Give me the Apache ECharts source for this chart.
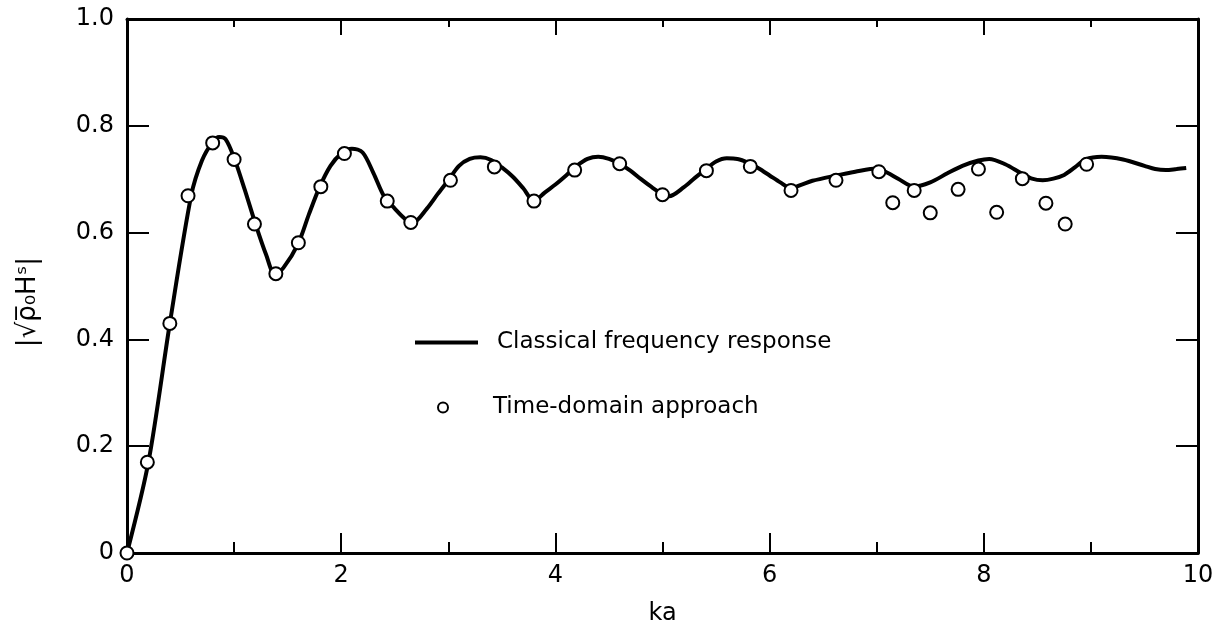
<!DOCTYPE html>
<html>
<head>
<meta charset="utf-8">
<script src="https://cdn.jsdelivr.net/npm/echarts@6/dist/echarts.min.js"></script>
<style>
html,body{margin:0;padding:0;background:#fff;}
#chart{width:1221px;height:634px;}
</style>
</head>
<body>
<div id="chart"></div>
<script>
// Classical frequency response curve (ka, |sqrt(rho) H^s|)
const curveKa = [0, 0.2, 0.4, 0.6, 0.7, 0.8, 0.86, 0.92, 1.0, 1.1, 1.2, 1.3, 1.38, 1.46, 1.6, 1.7, 1.8, 1.9, 2.0, 2.1, 2.2, 2.3, 2.4, 2.5, 2.6, 2.67, 2.8, 2.9, 3.0, 3.1, 3.2, 3.3, 3.4, 3.5, 3.6, 3.7, 3.8, 3.9, 4.0, 4.1, 4.2, 4.3, 4.4, 4.5, 4.6, 4.7, 4.8, 4.9, 5.0, 5.06, 5.2, 5.3, 5.4, 5.5, 5.6, 5.7, 5.8, 5.9, 6.0, 6.1, 6.2, 6.3, 6.4, 6.6, 6.8, 7.0, 7.1, 7.2, 7.35, 7.5, 7.66, 7.8, 7.95, 8.05, 8.2, 8.35, 8.45, 8.55, 8.65, 8.75, 8.85, 8.95, 9.1, 9.3, 9.5, 9.6, 9.7, 9.8, 9.89];
const curveVal = [0, 0.17, 0.43, 0.67, 0.735, 0.77, 0.779, 0.775, 0.74, 0.68, 0.616, 0.558, 0.522, 0.534, 0.58, 0.635, 0.686, 0.725, 0.748, 0.757, 0.75, 0.712, 0.668, 0.645, 0.625, 0.619, 0.645, 0.672, 0.698, 0.725, 0.738, 0.741, 0.736, 0.722, 0.705, 0.683, 0.659, 0.675, 0.69, 0.707, 0.725, 0.738, 0.742, 0.738, 0.729, 0.716, 0.70, 0.685, 0.672, 0.668, 0.685, 0.702, 0.718, 0.733, 0.739, 0.738, 0.731, 0.72, 0.707, 0.694, 0.683, 0.690, 0.697, 0.706, 0.714, 0.72, 0.712, 0.701, 0.686, 0.694, 0.711, 0.725, 0.735, 0.738, 0.728, 0.711, 0.701, 0.698, 0.701, 0.708, 0.722, 0.737, 0.742, 0.737, 0.725, 0.719, 0.717, 0.719, 0.721];

// Time-domain approach points
const pointKa = [0, 0.19, 0.4, 0.57, 0.8, 1.0, 1.19, 1.39, 1.6, 1.81, 2.03, 2.43, 2.65, 3.02, 3.43, 3.8, 4.18, 4.6, 5.0, 5.41, 5.82, 6.2, 6.62, 7.02, 7.15, 7.35, 7.5, 7.76, 7.95, 8.12, 8.36, 8.58, 8.76, 8.96];
const pointVal = [0, 0.17, 0.43, 0.669, 0.768, 0.737, 0.616, 0.523, 0.581, 0.686, 0.748, 0.659, 0.619, 0.698, 0.723, 0.659, 0.717, 0.729, 0.671, 0.716, 0.724, 0.679, 0.698, 0.714, 0.656, 0.679, 0.637, 0.681, 0.719, 0.638, 0.701, 0.655, 0.616, 0.728];

const xTicks = ['0', '2', '4', '6', '8', '10'];
const yTicks = ['0', '0.2', '0.4', '0.6', '0.8', '1.0'];

const seriesNames = ['Classical frequency response', 'Time-domain approach'];
const xName = 'ka';
const yName = '|√ρ̅₀Hˢ|';

const FONT = 'DejaVu Sans';
const chart = echarts.init(document.getElementById('chart'), null, {renderer: 'canvas'});

const axisLine = {show: true, onZero: false, lineStyle: {color: '#000', width: 3}};
const option = {
  backgroundColor: '#fff',
  animation: false,
  grid: {left: 127, right: 23, top: 19, bottom: 81, containLabel: false},
  legend: [
    {
      data: [{name: seriesNames[0], icon: 'rect'}],
      left: 415, top: 331, padding: 0,
      itemWidth: 63, itemHeight: 4,
      itemStyle: {color: '#000', borderWidth: 0},
      textStyle: {fontFamily: FONT, fontSize: 23, color: '#000', padding: [0, 0, 0, 14]},
      selectedMode: false
    },
    {
      data: [{name: seriesNames[1], icon: 'circle'}],
      left: 437, top: 396, padding: 0,
      itemWidth: 20, itemHeight: 10,
      itemStyle: {color: '#fff', borderColor: '#000', borderWidth: 2},
      textStyle: {fontFamily: FONT, fontSize: 23, color: '#000', padding: [0, 0, 0, 35]},
      selectedMode: false
    }
  ],
  xAxis: [
    {
      type: 'value', min: 0, max: 10, interval: 2, position: 'bottom',
      name: xName, nameLocation: 'middle', nameGap: 49,
      nameTextStyle: {fontFamily: FONT, fontSize: 24, color: '#000'},
      axisLine: axisLine,
      axisTick: {show: true, inside: true, length: 20, lineStyle: {color: '#000', width: 2}},
      minorTick: {show: true, splitNumber: 2, length: 11, lineStyle: {color: '#000', width: 2}},
      axisLabel: {fontFamily: FONT, fontSize: 24, color: '#000', margin: 11,
        formatter: function (v) { return xTicks[Math.round(v / 2)]; }},
      splitLine: {show: false}
    },
    {
      type: 'value', min: 0, max: 10, interval: 2, position: 'top',
      axisLine: axisLine,
      axisTick: {show: true, inside: true, length: 16, lineStyle: {color: '#000', width: 2}},
      minorTick: {show: true, splitNumber: 2, length: 8, lineStyle: {color: '#000', width: 2}},
      axisLabel: {show: false},
      splitLine: {show: false}
    }
  ],
  yAxis: [
    {
      type: 'value', min: 0, max: 1, interval: 0.2, position: 'left',
      name: yName, nameLocation: 'middle', nameGap: 86, nameRotate: 90,
      nameTextStyle: {fontFamily: FONT, fontSize: 26, color: '#000', padding: [0, 32, 0, 0]},
      axisLine: axisLine,
      axisTick: {show: true, inside: true, length: 22, lineStyle: {color: '#000', width: 2}},
      axisLabel: {fontFamily: FONT, fontSize: 24, color: '#000', margin: 13,
        formatter: function (v) { return yTicks[Math.round(v * 5)]; }},
      splitLine: {show: false}
    },
    {
      type: 'value', min: 0, max: 1, interval: 0.2, position: 'right',
      axisLine: axisLine,
      axisTick: {show: true, inside: true, length: 22, lineStyle: {color: '#000', width: 2}},
      axisLabel: {show: false},
      splitLine: {show: false}
    }
  ],
  series: [
    {
      name: seriesNames[0], type: 'line',
      data: curveKa.map(function (x, i) { return [x, curveVal[i]]; }),
      symbol: 'none', smooth: 0.3,
      lineStyle: {color: '#000', width: 4},
      itemStyle: {color: '#000'},
      z: 2
    },
    {
      name: seriesNames[1], type: 'scatter',
      data: pointKa.map(function (x, i) { return [x, pointVal[i]]; }),
      symbol: 'circle', symbolSize: 13,
      itemStyle: {color: '#fff', borderColor: '#000', borderWidth: 2, opacity: 1},
      z: 3
    }
  ]
};
chart.setOption(option);
</script>
</body>
</html>
